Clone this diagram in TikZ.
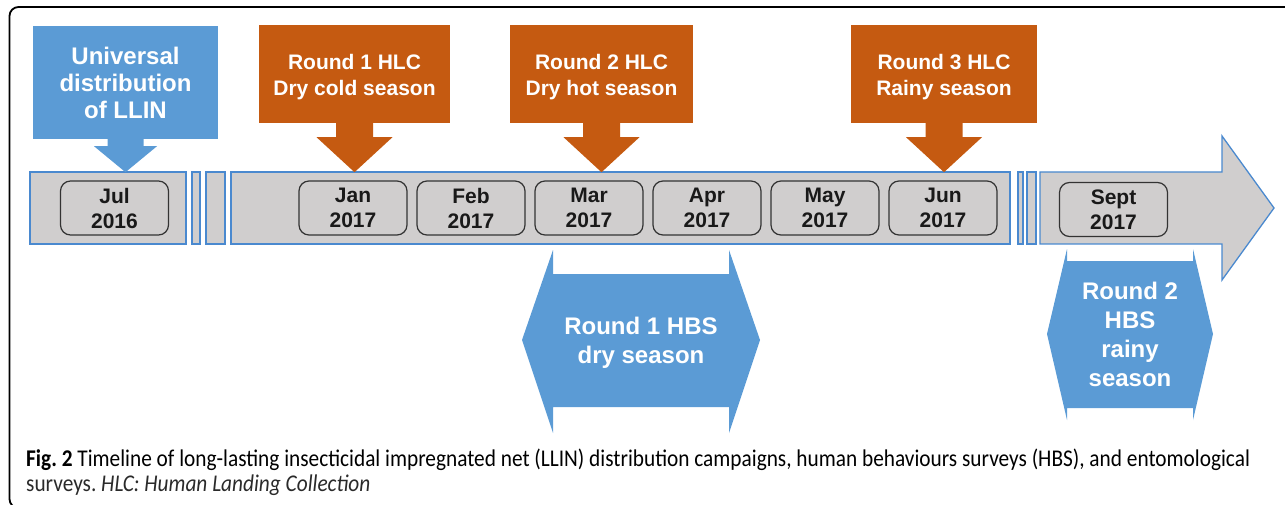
\documentclass[tikz,border=0pt]{standalone}
\usepackage{fontspec, graphicx, tikz}
\setmainfont{Liberation Sans}
\newfontfamily\capfont{Carlito}
\frenchspacing
\definecolor{llinblue}{HTML}{5B9BD5}
\definecolor{hlcorange}{HTML}{C55A11}
\definecolor{stripgray}{HTML}{D0CECE}
\definecolor{stripline}{HTML}{4A89CF}
\definecolor{boxline}{HTML}{333333}
\definecolor{captext}{HTML}{2A2A2A}
\tikzset{strip/.style = {fill=stripgray, draw=stripline, line width=1.3pt}}
\tikzset{month/.style = {draw=boxline, fill=stripgray, line width=1.2pt, rounded corners=10pt, minimum width=108pt, minimum height=54pt, inner sep=0pt, align=center, text=black!90, font=\fontsize{21}{25}\selectfont\bfseries}}
\tikzset{hlcbox/.style = {fill=hlcorange, text=white, minimum height=98pt, inner sep=0pt, align=center, text height=47pt, font=\fontsize{21}{26}\selectfont\bfseries}}
\tikzset{llinbox/.style = {fill=llinblue, text=white, minimum width=185pt, minimum height=113pt, inner sep=0pt, align=center, font=\fontsize{24}{27}\selectfont\bfseries}}
\tikzset{hbstext/.style = {text=white, inner sep=0pt, align=center, font=\fontsize{24}{29}\selectfont\bfseries}}
\tikzset{captxt/.style = {anchor=base west, inner sep=0pt, text=captext}}
\newsavebox\capline
\newlength\capw

\begin{document}
\sbox\capline{\capfont\fontsize{24}{28}\selectfont\textbf{Fig. 2} Timeline of long-lasting insecticidal impregnated net (LLIN) distribution campaigns, human behaviours surveys (HBS), and entomological}%
\setlength\capw{\wd\capline}%
\pgfmathsetmacro\capfac{1224pt/\capw}%
\begin{tikzpicture}[x=1pt, y=-1pt]
\useasboundingbox (0,0) rectangle (1285,505);
\draw [line width=1.8pt, rounded corners=9pt] (1295,7) -- (9.5,7) -- (9.5,508) -- (1295,508);
\foreach \a/\b in {30/186, 192/200, 206/225, 231/1010, 1018/1023, 1027/1036}
  \draw [strip] (\a,172) rectangle (\b,244);
\draw [strip] (1040,172) -- (1222,172) -- (1222,136) -- (1274,208) -- (1222,280) -- (1222,244) -- (1040,244) -- cycle;
\node [month] (jul) at (114.5,208) {Jul\\2016};
\foreach \m/\x in {Jan/353, Feb/471, Mar/589, Apr/707, May/825, Jun/943}
  \node [month] (\m) at (\x,208) {\m\\2017};
\node [month] (sept) at (1113.5,209.5) {Sept\\2017};
\node [llinbox] (llin) at (125.5,82.5) {Universal\\distribution\\of LLIN};
\fill [llinblue] (llin.south) ++(-18,-1) -- ++(0,8) -- ++(-13.5,0) -- ++(31.5,26) -- ++(31.5,-26) -- ++(-13.5,0) -- ++(0,-8) -- cycle;
\foreach \x/\w/\txt [count=\i] in {354.5/191/{Round 1 HLC\\Dry cold season}, 601.5/183/{Round 2 HLC\\Dry hot season}, 944/186/{Round 3 HLC\\Rainy season}} {
  \node [hlcbox, minimum width=\w pt] (hlc\i) at (\x,74) {\txt};
  \fill [hlcorange] (hlc\i.south) ++(-18.5,-1) -- ++(0,15) -- ++(-19.5,0) -- ++(38,35) -- ++(38,-35) -- ++(-19.5,0) -- ++(0,-15) -- cycle;
}
\fill [llinblue] (553,250) -- (553,274) -- (729,274) -- (729,250) -- (760,340) -- (729,433) -- (729,407) -- (553,407) -- (553,433) -- (522,340) -- cycle;
\node [hbstext] (hbs1) at (641,343) {Round 1 HBS\\dry season};
\fill [llinblue] (1067,249) -- (1067,261) -- (1193,261) -- (1193,249) -- (1213,334) -- (1193,420) -- (1193,408) -- (1067,408) -- (1067,420) -- (1047,334) -- cycle;
\node [hbstext] (hbs2) at (1130,334) {Round 2\\HBS\\rainy\\season};
\node [captxt] (cap1) at (26,466) {\scalebox{\capfac}[1]{\usebox\capline}};
\node [captxt] (cap2) at (26,491) {\scalebox{\capfac}[1]{\capfont\fontsize{24}{28}\selectfont surveys. \textit{HLC: Human Landing Collection}}};
\end{tikzpicture}
\end{document}
